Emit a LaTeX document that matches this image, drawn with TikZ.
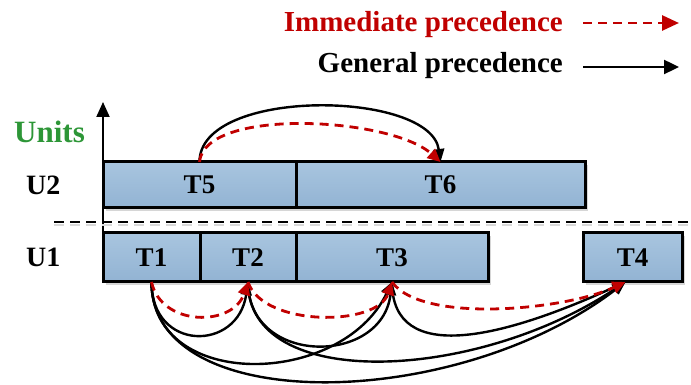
\documentclass[tikz,border=0pt]{standalone}
\usepackage{fontspec}
\setmainfont{Liberation Serif}
\usetikzlibrary{arrows.meta,shadows}
\definecolor{precred}{RGB}{192,0,0}
\definecolor{unitgreen}{RGB}{45,150,55}
\definecolor{boxtop}{RGB}{168,197,223}
\definecolor{boxbot}{RGB}{146,179,211}
\begin{document}
\begin{tikzpicture}[x=1pt,y=1pt,
  taskbox/.style={draw=black, line width=3pt, top color=boxtop, bottom color=boxbot,
    inner sep=0pt, outer sep=0pt,
    drop shadow={shadow xshift=3pt, shadow yshift=-3pt, fill=black!16, opacity=1},
    font=\bfseries\fontsize{27}{30}\selectfont},
  unitlabel/.style={anchor=base west, inner sep=0pt, font=\bfseries\fontsize{28}{32}\selectfont},
  legendtext/.style={anchor=base east, inner sep=0pt, font=\bfseries\fontsize{29}{33}\selectfont},
  gen/.style={line width=2.4pt, black, -{Triangle[length=13pt,width=11pt]}},
  imm/.style={line width=2.8pt, precred, dash pattern=on 9pt off 6pt, -{Triangle[length=13pt,width=12pt]}},
  leggen/.style={line width=2.4pt, black, -{Triangle[length=15pt,width=14pt]}},
  legimm/.style={line width=2.8pt, precred, dash pattern=on 9pt off 6pt, -{Triangle[length=17pt,width=15pt]}},
  sepline/.style={line width=2.5pt, dash pattern=on 10pt off 6pt},
  axisline/.style={line width=2pt, -{Triangle[length=15pt,width=13pt]}}
]
\useasboundingbox (0,0) rectangle (691,385);

% legend
\node[legendtext, text=precred] (immtext) at (563,353) {Immediate precedence};
\node[legendtext] (gentext) at (563,312) {General precedence};
\coordinate (imma) at (583,362);
\coordinate (immb) at (679,362);
\coordinate (gena) at (583,318);
\coordinate (genb) at (679,318);
\draw[legimm] (imma) -- (immb);
\draw[leggen] (gena) -- (genb);

% axis and labels
\coordinate (axbot) at (103,102);
\coordinate (axtop) at (103,283);
\draw[axisline] (axbot) -- (axtop);
\node[unitlabel, text=unitgreen, font=\bfseries\fontsize{31}{34}\selectfont] (units) at (14,242) {Units};
\node[unitlabel] (u2) at (26,190) {U2};
\node[unitlabel] (u1) at (26,118) {U1};

% separator
\coordinate (sepa) at (54,163);
\coordinate (sepb) at (691,163);
\draw[sepline, black!15] ([yshift=-3pt]sepa) -- ([yshift=-3pt]sepb);
\draw[sepline] (sepa) -- (sepb);

% tasks
\node[taskbox, minimum width=193pt, minimum height=46pt] (T5) at (199.5,200) {T5};
\node[taskbox, minimum width=289pt, minimum height=46pt] (T6) at (440.5,200) {T6};
\node[taskbox, minimum width=97pt, minimum height=49pt] (T1) at (151.5,127.5) {T1};
\node[taskbox, minimum width=96pt, minimum height=49pt] (T2) at (248,127.5) {T2};
\node[taskbox, minimum width=192pt, minimum height=49pt] (T3) at (392,127.5) {T3};
\node[taskbox, minimum width=99pt, minimum height=49pt] (T4) at (632.5,127.5) {T4};
\coordinate (T4in) at ([xshift=-7pt]T4.south);

% top arcs
\draw[gen] (T5.north) .. controls +(0,75) and +(-10,72) .. (T6.north);
\draw[imm] (T5.north) .. controls +(5,55) and +(-50,45) .. (T6.north);

% bottom arcs
\draw[gen] (T1.south) .. controls +(0,-135) and +(-170,-130) .. (T4in);
\draw[gen] (T2.south) .. controls +(0,-110) and +(-150,-100) .. (T4in);
\draw[gen] (T1.south) .. controls +(0,-110) and +(-50,-105) .. (T3.south);
\draw[gen] (T3.south) .. controls +(0,-85) and +(-120,-55) .. (T4in);
\draw[gen] (T2.south) .. controls +(0,-84) and +(-10,-84) .. (T3.south);
\draw[gen] (T1.south) .. controls +(0,-70) and +(-10,-70) .. (T2.south);
\draw[imm] (T1.south) .. controls +(10,-45) and +(-15,-45) .. (T2.south);
\draw[imm] (T2.south) .. controls +(15,-45) and +(-15,-45) .. (T3.south);
\draw[imm] (T3.south) .. controls +(30,-42) and +(-60,-28) .. (T4in);
\end{tikzpicture}
\end{document}
